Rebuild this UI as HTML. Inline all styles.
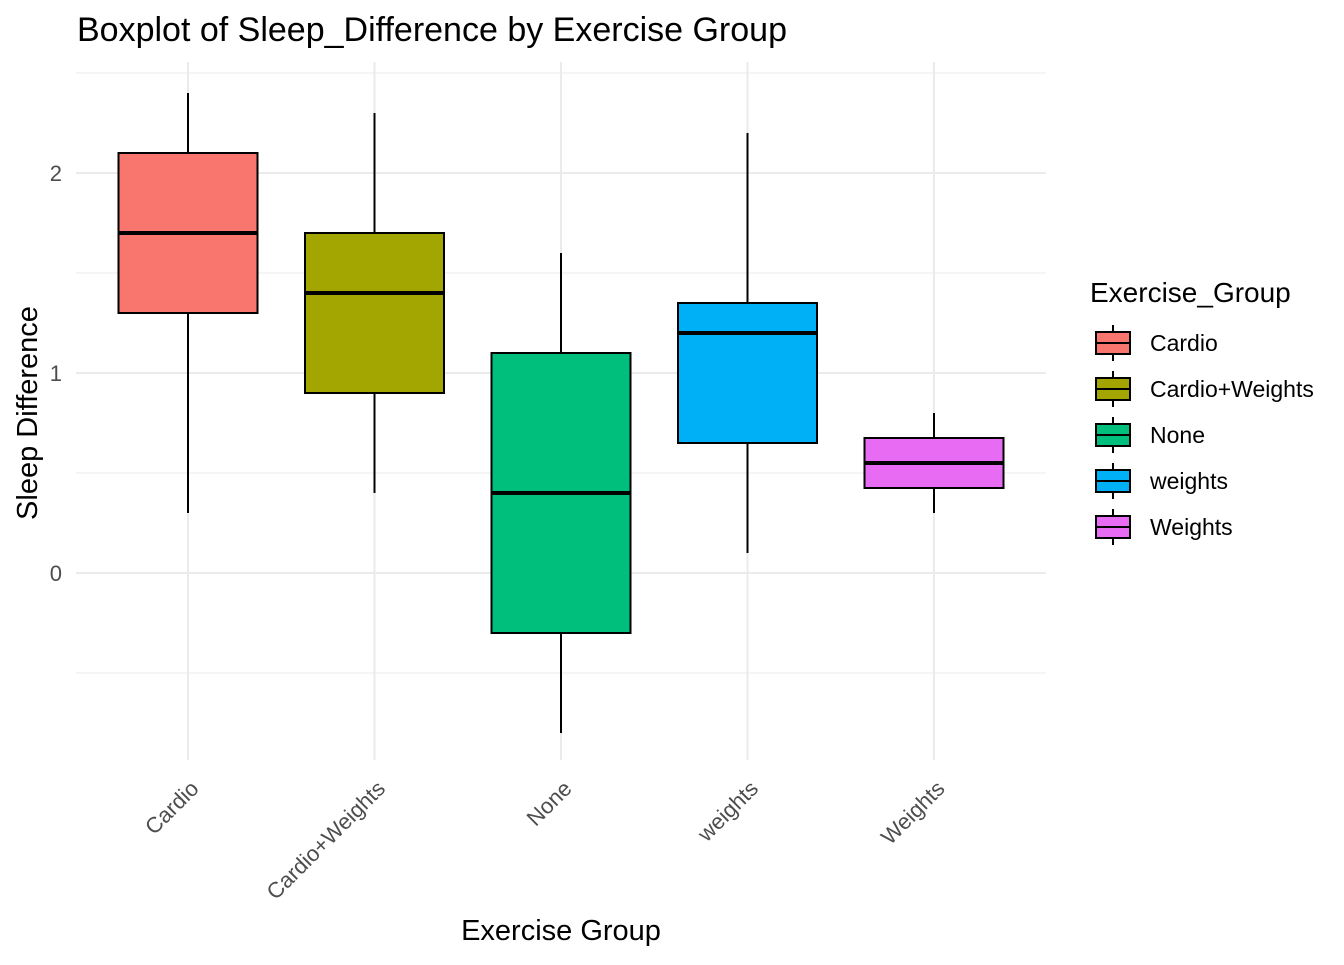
<!DOCTYPE html>
<html><head><meta charset="utf-8"><style>
body{margin:0;background:#fff;font-family:"Liberation Sans",Arial,sans-serif}
</style></head><body>
<svg width="1344" height="960" xmlns="http://www.w3.org/2000/svg" font-family="Liberation Sans, Arial, sans-serif">
<rect width="1344" height="960" fill="#fff"/>
<text x="77" y="41" font-size="34" fill="#000">Boxplot of Sleep_Difference by Exercise Group</text>
<g id="grid"></g>
<g id="boxes"></g>
<g id="yticks"></g>
<g id="xticks"></g>
<text x="561" y="940" font-size="29" text-anchor="middle">Exercise Group</text>
<text transform="translate(37,413) rotate(-90)" font-size="29" text-anchor="middle">Sleep Difference</text>
<text x="1090" y="302" font-size="28">Exercise_Group</text>
<g id="legend"></g>
</svg>
<script>
const categories=["Cardio","Cardio+Weights","None","weights","Weights"];
const whiskerLow=[0.3,0.4,-0.8,0.1,0.3];
const q1=[1.3,0.9,-0.3,0.65,0.425];
const medians=[1.7,1.4,0.4,1.2,0.55];
const q3=[2.1,1.7,1.1,1.35,0.675];
const whiskerHigh=[2.4,2.3,1.6,2.2,0.8];
const colors=["#F8766D","#A3A500","#00BF7D","#00B0F6","#E76BF3"];
const yTicks=[0,1,2];
const yMinor=[-0.5,0.5,1.5,2.5];
const NS="http://www.w3.org/2000/svg";
const px0=76,px1=1046,py0=62,py1=760;
const y=v=>573-200*v;
const x=i=>188+i*186.5;
function mk(t,a,p){const e=document.createElementNS(NS,t);for(const k in a)e.setAttribute(k,a[k]);p.appendChild(e);return e;}
const grid=document.getElementById('grid');
yMinor.forEach(v=>{const l=mk('line',{x1:px0,x2:px1,y1:y(v),y2:y(v),stroke:'#ebebeb','stroke-width':1},grid);

});
yTicks.forEach(v=>{const l=mk('line',{x1:px0,x2:px1,y1:y(v),y2:y(v),stroke:'#ebebeb','stroke-width':2},grid);

});
categories.forEach((c,i)=>{const l=mk('line',{x1:x(i),x2:x(i),y1:py0,y2:py1,stroke:'#ebebeb','stroke-width':2},grid);

});
const yt=document.getElementById('yticks');
yTicks.forEach(v=>{const t=mk('text',{x:62,y:y(v)+8,'font-size':22,'text-anchor':'end',fill:'#4d4d4d'},yt);t.textContent=v;

});
const xt=document.getElementById('xticks');
categories.forEach((c,i)=>{const t=mk('text',{transform:`translate(${x(i)+12},${790}) rotate(-45)`,'font-size':22,'text-anchor':'end',fill:'#4d4d4d'},xt);t.textContent=c;

});
const bx=document.getElementById('boxes');const hw=69.5;
categories.forEach((c,i)=>{const g=mk('g',{},bx);


mk('line',{x1:x(i),x2:x(i),y1:y(whiskerHigh[i]),y2:y(q3[i]),stroke:'#000','stroke-width':2},g);
mk('line',{x1:x(i),x2:x(i),y1:y(q1[i]),y2:y(whiskerLow[i]),stroke:'#000','stroke-width':2},g);
mk('rect',{x:x(i)-hw,y:y(q3[i]),width:2*hw,height:y(q1[i])-y(q3[i]),fill:colors[i],stroke:'#000','stroke-width':2},g);
mk('line',{x1:x(i)-hw,x2:x(i)+hw,y1:y(medians[i]),y2:y(medians[i]),stroke:'#000','stroke-width':4},g);});
const lg=document.getElementById('legend');
categories.forEach((c,i)=>{const cy=343+i*46;const g=mk('g',{},lg);


mk('line',{x1:1113,x2:1113,y1:cy-18,y2:cy+18,stroke:'#000','stroke-width':2},g);
mk('rect',{x:1096,y:cy-11,width:34,height:22,fill:colors[i],stroke:'#000','stroke-width':2},g);
mk('line',{x1:1096,x2:1130,y1:cy,y2:cy,stroke:'#000','stroke-width':2},g);
const t=mk('text',{x:1150,y:cy+8,'font-size':23},g);t.textContent=c;});
</script>
</body></html>
